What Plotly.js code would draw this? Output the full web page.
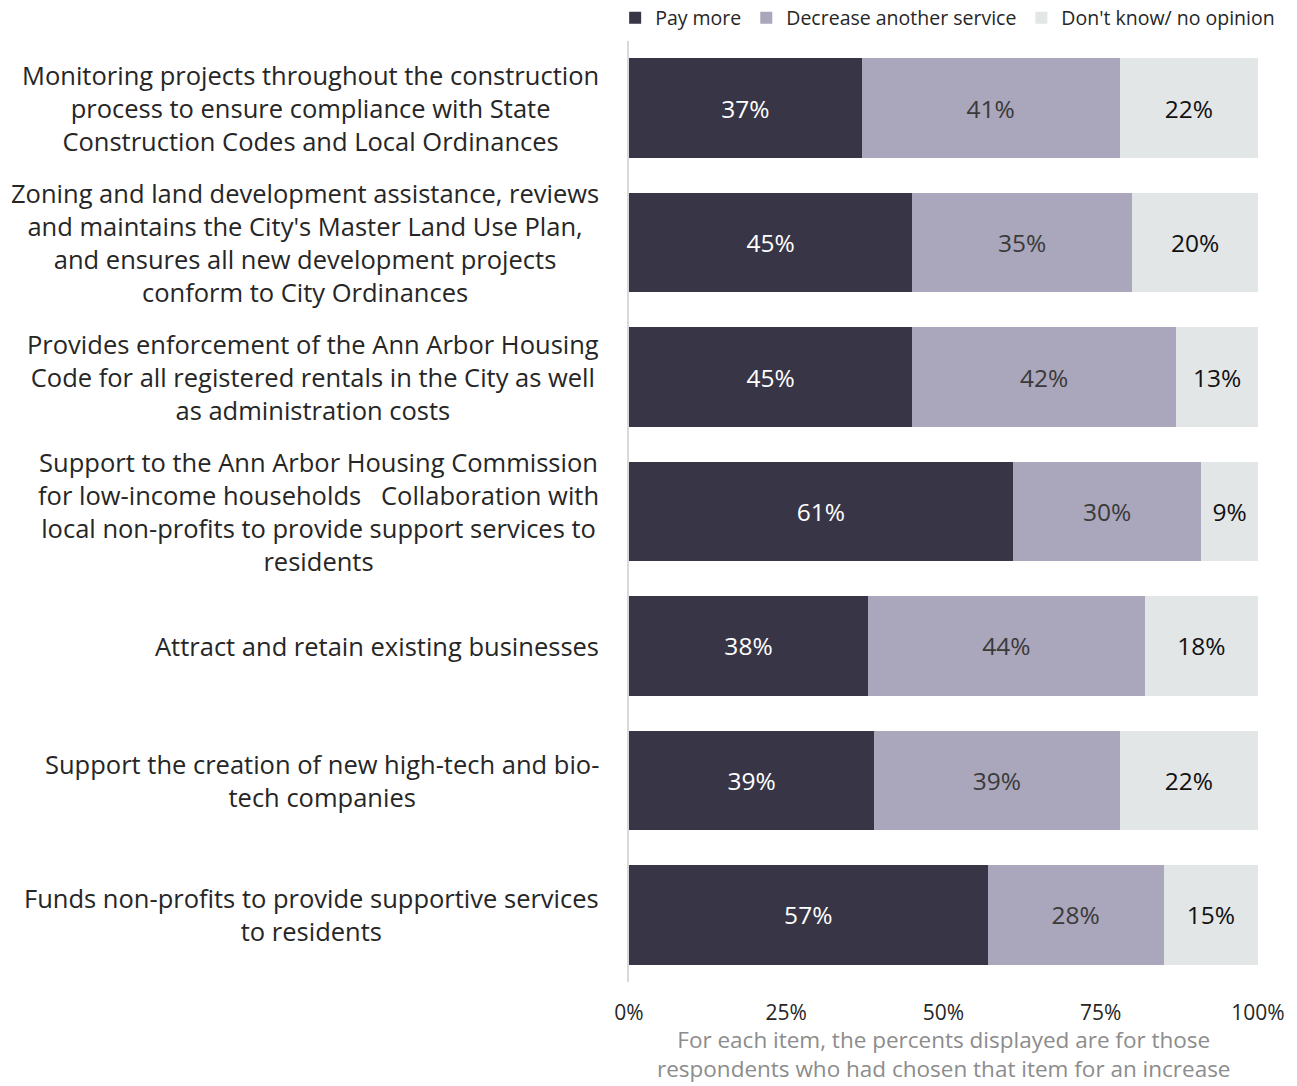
<!DOCTYPE html>
<html>
<head>
<meta charset="utf-8">
<script src="https://cdn.plot.ly/plotly-3.0.1.min.js"></script>
<style>html,body{margin:0;padding:0;background:#fff;}#chart{width:1297px;height:1086px;}</style>
</head>
<body>
<div id="chart"></div>
<script>
const categories = [
  "Monitoring projects throughout the construction<br>process to ensure compliance with State<br>Construction Codes and Local Ordinances",
  "Zoning and land development assistance, reviews<br>and maintains the City's Master Land Use Plan,<br>and ensures all new development projects<br>conform to City Ordinances",
  "Provides enforcement of the Ann Arbor Housing<br>Code for all registered rentals in the City as well<br>as administration costs",
  "Support to the Ann Arbor Housing Commission<br>for low-income households   Collaboration with<br>local non-profits to provide support services to<br>residents",
  "Attract and retain existing businesses",
  "Support the creation of new high-tech and bio-<br>tech companies",
  "Funds non-profits to provide supportive services<br>to residents"
];
const payMore = [37, 45, 45, 61, 38, 39, 57];
const decreaseService = [41, 35, 42, 30, 44, 39, 28];
const dontKnow = [22, 20, 13, 9, 18, 22, 15];
const seriesNames = ["Pay more", "Decrease another service", "Don't know/ no opinion"];
const tickValues = [0, 25, 50, 75, 100];
const tickLabels = ["0%", "25%", "50%", "75%", "100%"];
const footnote = "For each item, the percents displayed are for those<br>respondents who had chosen that item for an increase";

const FONT = "'Open Sans', sans-serif";
const ids = categories.map((c, i) => "c" + i);
const colors = ["#383546", "#aaa6bb", "#e3e6e6"];
const textColors = ["#ffffff", "#3a3a3a", "#111111"];
const vals = [payMore, decreaseService, dontKnow];

const traces = vals.map((v, k) => ({
  type: "bar",
  orientation: "h",
  name: seriesNames[k],
  x: v,
  y: ids,
  marker: {color: colors[k], line: {width: 0}},
  text: v.map(n => n + "%"),
  textposition: "inside",
  insidetextanchor: "middle",
  textangle: 0,
  constraintext: "none",
  insidetextfont: {family: FONT, size: 24.5, color: textColors[k]},
  hoverinfo: "none"
}));

const annotations = categories.map((c, i) => ({
  xref: "paper", yref: "y",
  x: -0.045, y: ids[i],
  xanchor: "right", yanchor: "middle",
  align: "center",
  text: c,
  showarrow: false,
  font: {family: FONT, size: 25.5, color: "#262626"}
}));
annotations.push({
  xref: "paper", yref: "paper",
  x: 0.5, y: -0.043,
  xanchor: "center", yanchor: "top",
  align: "center",
  text: footnote,
  showarrow: false,
  font: {family: FONT, size: 22.5, color: "#8c8c8c"}
});

const layout = {
  width: 1297, height: 1086,
  margin: {l: 629, r: 39, t: 41, b: 104, pad: 0, autoexpand: false},
  barmode: "stack",
  bargap: 0.26,
  paper_bgcolor: "#fff",
  plot_bgcolor: "#fff",
  showlegend: true,
  legend: {
    orientation: "h",
    xref: "paper", yref: "paper",
    x: -0.022, xanchor: "left",
    y: 1.045, yanchor: "top",
    font: {family: FONT, size: 19.5, color: "#262626"},
    itemwidth: 30,
    tracegroupgap: 0,
    traceorder: "normal"
  },
  xaxis: {
    range: [0, 100],
    tickvals: tickValues,
    ticktext: tickLabels,
    showgrid: false,
    zeroline: false,
    showline: false,
    ticks: "",
    ticklabelstandoff: 16,
    tickfont: {family: FONT, size: 21, color: "#262626"},
    fixedrange: true
  },
  yaxis: {
    type: "category",
    categoryorder: "array",
    categoryarray: ids,
    autorange: "reversed",
    showticklabels: false,
    showgrid: false,
    zeroline: false,
    showline: true,
    linecolor: "#d9d9d9",
    linewidth: 2,
    ticks: "",
    fixedrange: true
  },
  annotations: annotations
};

Plotly.newPlot("chart", traces, layout, {displayModeBar: false, staticPlot: true});
</script>
</body>
</html>
